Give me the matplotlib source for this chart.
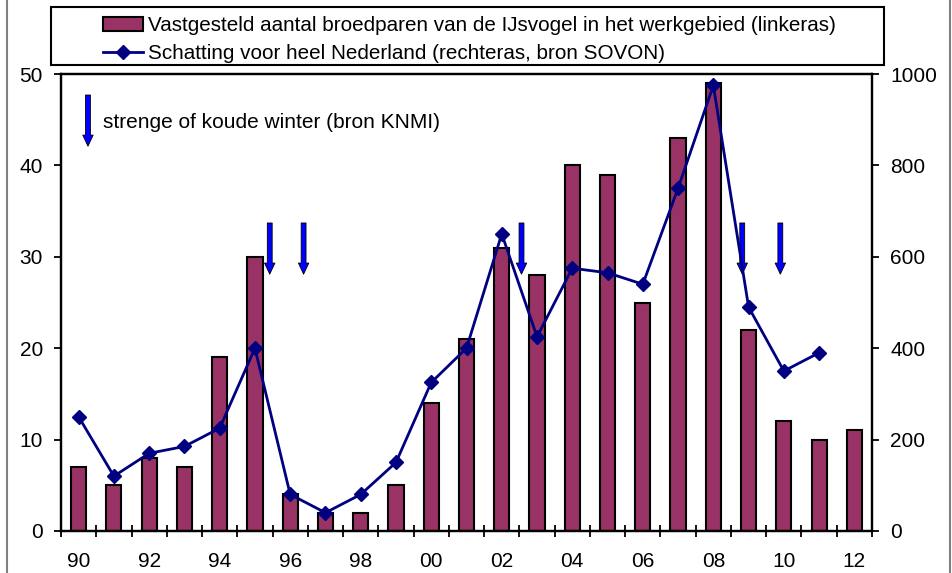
import matplotlib
matplotlib.use("Agg")
import matplotlib.pyplot as plt
from matplotlib.lines import Line2D
from matplotlib.patches import Rectangle
import numpy as np

plt.rcParams['font.family'] = ['Liberation Sans', 'DejaVu Sans']

years = ['90', '91', '92', '93', '94', '95', '96', '97', '98', '99', '00', '01',
         '02', '03', '04', '05', '06', '07', '08', '09', '10', '11', '12']
pairs_area = [7, 5, 8, 7, 19, 30, 4, 2, 2, 5, 14, 21, 31, 28, 40, 39, 25, 43, 49, 22, 12, 10, 11]
nl_estimate = [250, 120, 170, 185, 225, 400, 80, 40, 80, 150, 325, 400, 650, 425, 575,
               565, 540, 750, 975, 490, 350, 390]
cold_winter_pos = [5.42, 6.38, 12.56, 18.82, 19.9]
bar_label = 'Vastgesteld aantal broedparen van de IJsvogel in het werkgebied (linkeras)'
line_label = 'Schatting voor heel Nederland (rechteras, bron SOVON)'
arrow_label = 'strenge of koude winter (bron KNMI)'

FS = 15

fig = plt.figure(figsize=(9.52, 5.73), dpi=100)
ax = fig.add_axes([61/952, 1-531/573, (872-61)/952, (531-74)/573])
ax2 = ax.twinx()

x = np.arange(len(years))
bars = ax.bar(x, pairs_area, width=0.43, color='#993366', edgecolor='black',
              linewidth=1.5, zorder=2, label=bar_label)
xl = np.arange(len(nl_estimate))
line, = ax2.plot(xl, nl_estimate, color='#000080', lw=2, marker='D', markersize=7,
                 zorder=3, label=line_label)

ax.set_xlim(-0.5, len(years) - 0.5)
ax.set_ylim(0, 50)
ax2.set_ylim(0, 1000)
ax.set_yticks(range(0, 51, 10))
ax2.set_yticks(range(0, 1001, 200))

ax.set_xticks(x)
ax.set_xticklabels([y if i % 2 == 0 else '' for i, y in enumerate(years)])
ax.set_xticks(np.arange(-0.5, len(years), 1), minor=True)
ax.tick_params(axis='x', which='major', length=0, pad=15, labelsize=FS)
ax.tick_params(axis='x', which='minor', direction='inout', length=9, width=1.3)
ax.tick_params(axis='y', direction='out', length=5, width=1.3, pad=8, labelsize=FS)
ax2.tick_params(axis='y', direction='out', length=5, width=1.3, pad=8, labelsize=FS)

for a in (ax, ax2):
    for s in a.spines.values():
        s.set_linewidth(1.6)
        s.set_color('black')

# cold winter arrows
arrow_kw = dict(arrowstyle='simple,head_length=0.8,head_width=0.75,tail_width=0.35',
                fc='#0000FF', ec='black', lw=0.6, shrinkA=0, shrinkB=0,
                mutation_scale=10)
for p in cold_winter_pos:
    ax.annotate('', xy=(p, 28.1), xytext=(p, 33.7), arrowprops=arrow_kw, zorder=4)
ax.annotate('', xy=(0.265, 42.1), xytext=(0.265, 47.7), arrowprops=arrow_kw, zorder=4)
ax.text(0.69, 44.7, arrow_label, fontsize=FS, va='center', ha='left')

# legend box (frame drawn separately, entries centred inside)
lx0, lx1, ly0, ly1 = 51/952, 884/952, 1-65/573, 1-7/573
fig.add_artist(Rectangle((lx0, ly0), lx1-lx0, ly1-ly0, transform=fig.transFigure,
                         fill=True, fc='white', ec='black', lw=1.5, zorder=5))
leg = fig.legend(handles=[bars, line], labels=[bar_label, line_label],
                 loc='center',
                 bbox_to_anchor=((lx0+lx1)/2 + 2/952, (ly0+ly1)/2 - 3.5/573),
                 fontsize=14.85, frameon=False,
                 borderpad=0, labelspacing=0.43, handlelength=1.95,
                 handletextpad=0.25, borderaxespad=0)
leg.set_zorder(6)

# outer grey frame lines
fig.add_artist(Line2D([7/952, 7/952], [0, 1], color='#808080', lw=1.5))
fig.add_artist(Line2D([950/952, 950/952], [0, 1], color='#808080', lw=1.5))

fig.savefig('out.png', dpi=100)
